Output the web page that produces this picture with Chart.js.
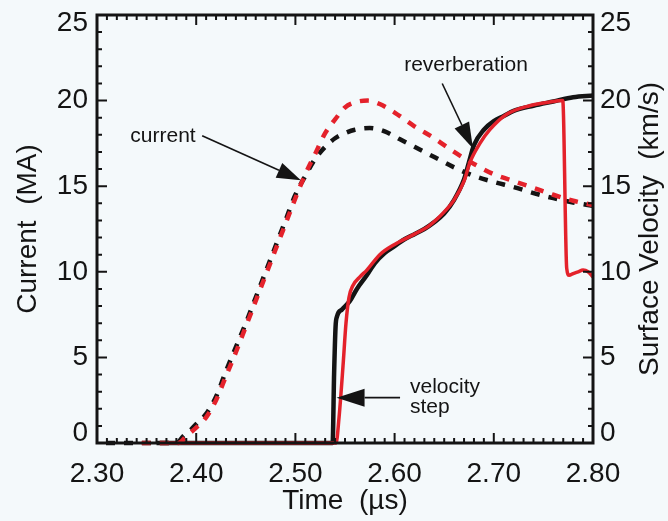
<!DOCTYPE html>
<html>
<head>
<meta charset="utf-8">
<script src="https://cdn.jsdelivr.net/npm/chart.js@4"></script>
<style>
  body { margin: 0; background: #f4f9fb; }
  #wrap { width: 668px; height: 521px; }
</style>
</head>
<body>
<div id="wrap"><canvas id="chart1"></canvas></div>
<script>
/* values */
const xTicks = [2.30, 2.40, 2.50, 2.60, 2.70, 2.80];
const yTicks = [0, 5, 10, 15, 20, 25];

// current, black dashed (left axis)
const curBlackT = [2.30, 2.38, 2.387, 2.395, 2.40, 2.41, 2.42, 2.43, 2.44, 2.45, 2.46, 2.47, 2.48, 2.49, 2.50, 2.51, 2.52, 2.53, 2.54, 2.55, 2.56, 2.575, 2.59, 2.605, 2.62, 2.64, 2.66, 2.68, 2.70, 2.72, 2.74, 2.76, 2.78, 2.80];
const curBlackV = [0, 0, 0.4, 0.8, 1.1, 1.7, 2.7, 4.2, 5.6, 7.0, 8.5, 10.0, 11.5, 13.0, 14.5, 15.6, 16.6, 17.3, 17.8, 18.1, 18.3, 18.4, 18.2, 17.75, 17.3, 16.7, 16.1, 15.6, 15.25, 14.95, 14.6, 14.3, 14.05, 13.85];

// current, red dashed (left axis)
const curRedT = [2.345, 2.382, 2.39, 2.40, 2.41, 2.42, 2.43, 2.44, 2.45, 2.46, 2.47, 2.48, 2.49, 2.50, 2.51, 2.52, 2.53, 2.54, 2.55, 2.56, 2.573, 2.585, 2.60, 2.62, 2.64, 2.66, 2.68, 2.70, 2.72, 2.74, 2.76, 2.78, 2.80];
const curRedV = [0, 0, 0.4, 0.9, 1.5, 2.5, 3.9, 5.3, 6.8, 8.3, 9.8, 11.3, 12.8, 14.3, 15.7, 16.9, 18.1, 18.9, 19.6, 19.9, 20.0, 19.8, 19.3, 18.5, 17.8, 17.0, 16.3, 15.7, 15.3, 14.9, 14.5, 14.15, 13.9];

// surface velocity, black solid (right axis)
const velBlackT = [2.36, 2.5375, 2.539, 2.5405, 2.542, 2.547, 2.555, 2.562, 2.572, 2.58, 2.59, 2.60, 2.61, 2.62, 2.63, 2.64, 2.65, 2.66, 2.67, 2.675, 2.68, 2.69, 2.70, 2.71, 2.72, 2.74, 2.76, 2.78, 2.80];
const velBlackV = [0, 0, 4.0, 6.8, 7.4, 7.8, 8.3, 9.0, 9.8, 10.5, 11.1, 11.5, 11.9, 12.2, 12.5, 12.9, 13.4, 14.2, 15.4, 16.4, 17.4, 18.3, 18.8, 19.1, 19.4, 19.7, 19.95, 20.2, 20.3];

// surface velocity, red solid (right axis)
const velRedT = [2.365, 2.541, 2.544, 2.548, 2.551, 2.554, 2.558, 2.565, 2.572, 2.585, 2.60, 2.62, 2.635, 2.65, 2.66, 2.67, 2.676, 2.686, 2.696, 2.713, 2.736, 2.755, 2.7695, 2.7735, 2.776, 2.78, 2.785, 2.79, 2.795, 2.80];
const velRedV = [0, 0, 1.5, 4.5, 7.0, 8.5, 9.2, 9.7, 10.1, 11.0, 11.6, 12.2, 12.7, 13.5, 14.2, 15.3, 16.4, 17.5, 18.3, 19.2, 19.7, 19.9, 20.0, 10.2, 9.8, 9.9, 10.0, 10.1, 10.0, 9.7];

const RED = '#e4222b';
const BLACK = '#141414';
const FONT = '"Liberation Sans", Arial, Helvetica, sans-serif';

const pts = (t, v) => t.map((x, i) => ({ x: x, y: v[i] }));

/* frame + inward ticks on all four sides */
const frameTicks = {
    id: 'frameTicks',
    afterDraw(chart) {
        const { ctx, chartArea: a, scales } = chart;
        const x = scales.x, y = scales.y;
        ctx.save();
        ctx.setLineDash([]);
        ctx.strokeStyle = BLACK;
        ctx.lineWidth = 2;
        ctx.lineCap = 'butt';
        for (let i = 0; i <= 50; i++) {
            const px = x.getPixelForValue(2.30 + i * 0.01);
            const len = i % 10 === 0 ? 10 : 5;
            ctx.beginPath();
            ctx.moveTo(px, a.bottom); ctx.lineTo(px, a.bottom - len);
            ctx.moveTo(px, a.top); ctx.lineTo(px, a.top + len);
            ctx.stroke();
        }
        for (let v = 0; v <= 25; v++) {
            const py = y.getPixelForValue(v);
            const len = v % 5 === 0 ? 10 : 5;
            ctx.beginPath();
            ctx.moveTo(a.left, py); ctx.lineTo(a.left + len, py);
            ctx.moveTo(a.right, py); ctx.lineTo(a.right - len, py);
            ctx.stroke();
        }
        ctx.lineWidth = 3;
        ctx.strokeRect(a.left, a.top, a.right - a.left, a.bottom - a.top);
        ctx.restore();
    }
};

/* text notes, arrows and the right axis title */
function arrow(ctx, x1, y1, x2, y2, len, half) {
    const ang = Math.atan2(y2 - y1, x2 - x1);
    const bx = x2 - len * Math.cos(ang), by = y2 - len * Math.sin(ang);
    ctx.beginPath();
    ctx.moveTo(x1, y1); ctx.lineTo(bx, by);
    ctx.stroke();
    ctx.beginPath();
    ctx.moveTo(x2, y2);
    ctx.lineTo(bx + half * Math.sin(ang), by - half * Math.cos(ang));
    ctx.lineTo(bx - half * Math.sin(ang), by + half * Math.cos(ang));
    ctx.closePath();
    ctx.fill();
}

const notes = {
    id: 'notes',
    afterDraw(chart) {
        const { ctx, chartArea: a, scales } = chart;
        const X = t => scales.x.getPixelForValue(t);
        const Y = v => scales.y.getPixelForValue(v);
        ctx.save();
        ctx.setLineDash([]);
        ctx.fillStyle = BLACK;
        ctx.strokeStyle = BLACK;
        ctx.lineWidth = 1.6;
        ctx.font = '21px ' + FONT;
        ctx.textBaseline = 'alphabetic';

        ctx.textAlign = 'center';
        ctx.fillText('current', X(2.3665), Y(17.6));
        arrow(ctx, X(2.406), Y(17.95), X(2.5055), Y(15.35), 24, 8);

        ctx.fillText('reverberation', X(2.672), Y(21.75));
        arrow(ctx, X(2.648), Y(21.0), X(2.679), Y(17.2), 26, 8);

        ctx.textAlign = 'left';
        ctx.fillText('velocity', X(2.6155), Y(2.9));
        ctx.fillText('step', X(2.6155), Y(1.75));
        arrow(ctx, X(2.6055), Y(2.65), X(2.5415), Y(2.65), 28, 9);

        // right axis title, reading upward like the left one
        ctx.font = '28px ' + FONT;
        ctx.textAlign = 'center';
        ctx.textBaseline = 'middle';
        ctx.translate(650, (a.top + a.bottom) / 2);
        ctx.rotate(-Math.PI / 2);
        ctx.fillText('Surface Velocity  (km/s)', 0, 0);
        ctx.restore();
    }
};

const data = {
    datasets: [
        {
            label: 'velocity (red)',
            data: pts(velRedT, velRedV),
            yAxisID: 'y2',
            borderColor: RED,
            borderWidth: 3.5,
            cubicInterpolationMode: 'monotone'
        },
        {
            label: 'current (red)',
            data: pts(curRedT, curRedV),
            yAxisID: 'y',
            borderColor: RED,
            borderWidth: 4.5,
            borderDash: [9, 9],
            cubicInterpolationMode: 'monotone'
        },
        {
            label: 'velocity (black)',
            data: pts(velBlackT, velBlackV),
            yAxisID: 'y2',
            borderColor: BLACK,
            borderWidth: 4.5,
            cubicInterpolationMode: 'monotone'
        },
        {
            label: 'current (black)',
            data: pts(curBlackT, curBlackV),
            yAxisID: 'y',
            borderColor: BLACK,
            borderWidth: 4.5,
            borderDash: [9, 9],
            borderDashOffset: 9, // keeps the black dashes beside the red ones
            cubicInterpolationMode: 'monotone'
        }
    ]
};

const tickFont = { family: FONT, size: 28 };

// the end labels sit a little inside the frame, as in the original
const yLabel = v => v === 25 ? ['', '25'] : v === 0 ? ['0', ''] : String(v);
const yFont = c => {
    const v = c.tick ? c.tick.value : null;
    return { family: FONT, size: 28, lineHeight: v === 25 ? 0.57 : v === 0 ? 0.72 : 1.2 };
};

// fixed box sizes so the plot area lands where it is in the original
const fitY = w => s => { s.width = w; s.paddingTop = 0; s.paddingBottom = 0; };
const fitX = s => { s.height = 78; s.paddingLeft = 0; s.paddingRight = 0; };

const config = {
    type: 'line',
    data,
    options: {
        responsive: true,
        maintainAspectRatio: false,
        animation: false,
        layout: { padding: { top: 15, left: 0, right: 0, bottom: 0 } },
        elements: { point: { radius: 0 } },
        datasets: { line: { clip: 6, fill: false } },
        plugins: { legend: { display: false }, tooltip: { enabled: false } },
        scales: {
            x: {
                type: 'linear',
                min: 2.30,
                max: 2.80,
                afterBuildTicks: s => { s.ticks = xTicks.map(v => ({ value: v })); },
                afterFit: fitX,
                grid: { display: false, drawTicks: false },
                border: { display: false },
                ticks: { font: tickFont, color: BLACK, padding: 14, maxRotation: 0, callback: v => v.toFixed(2) },
                title: { display: true, text: 'Time  (µs)', font: tickFont, color: BLACK, padding: { top: 0, bottom: 3 } }
            },
            y: {
                position: 'left',
                min: 0,
                max: 25,
                afterBuildTicks: s => { s.ticks = yTicks.map(v => ({ value: v })); },
                afterFit: fitY(97),
                grid: { display: false, drawTicks: false },
                border: { display: false },
                ticks: { font: yFont, color: BLACK, padding: 9, callback: yLabel },
                title: { display: true, text: 'Current  (MA)', font: tickFont, color: BLACK, padding: { top: 11, bottom: 0 } }
            },
            y2: {
                position: 'right',
                min: 0,
                max: 25,
                afterBuildTicks: s => { s.ticks = yTicks.map(v => ({ value: v })); },
                afterFit: fitY(75),
                grid: { display: false, drawTicks: false },
                border: { display: false },
                ticks: { font: yFont, color: BLACK, padding: 7, callback: yLabel }
            }
        }
    },
    plugins: [frameTicks, notes]
};

const chart1 = new Chart(document.getElementById('chart1'), config);
</script>
</body>
</html>
